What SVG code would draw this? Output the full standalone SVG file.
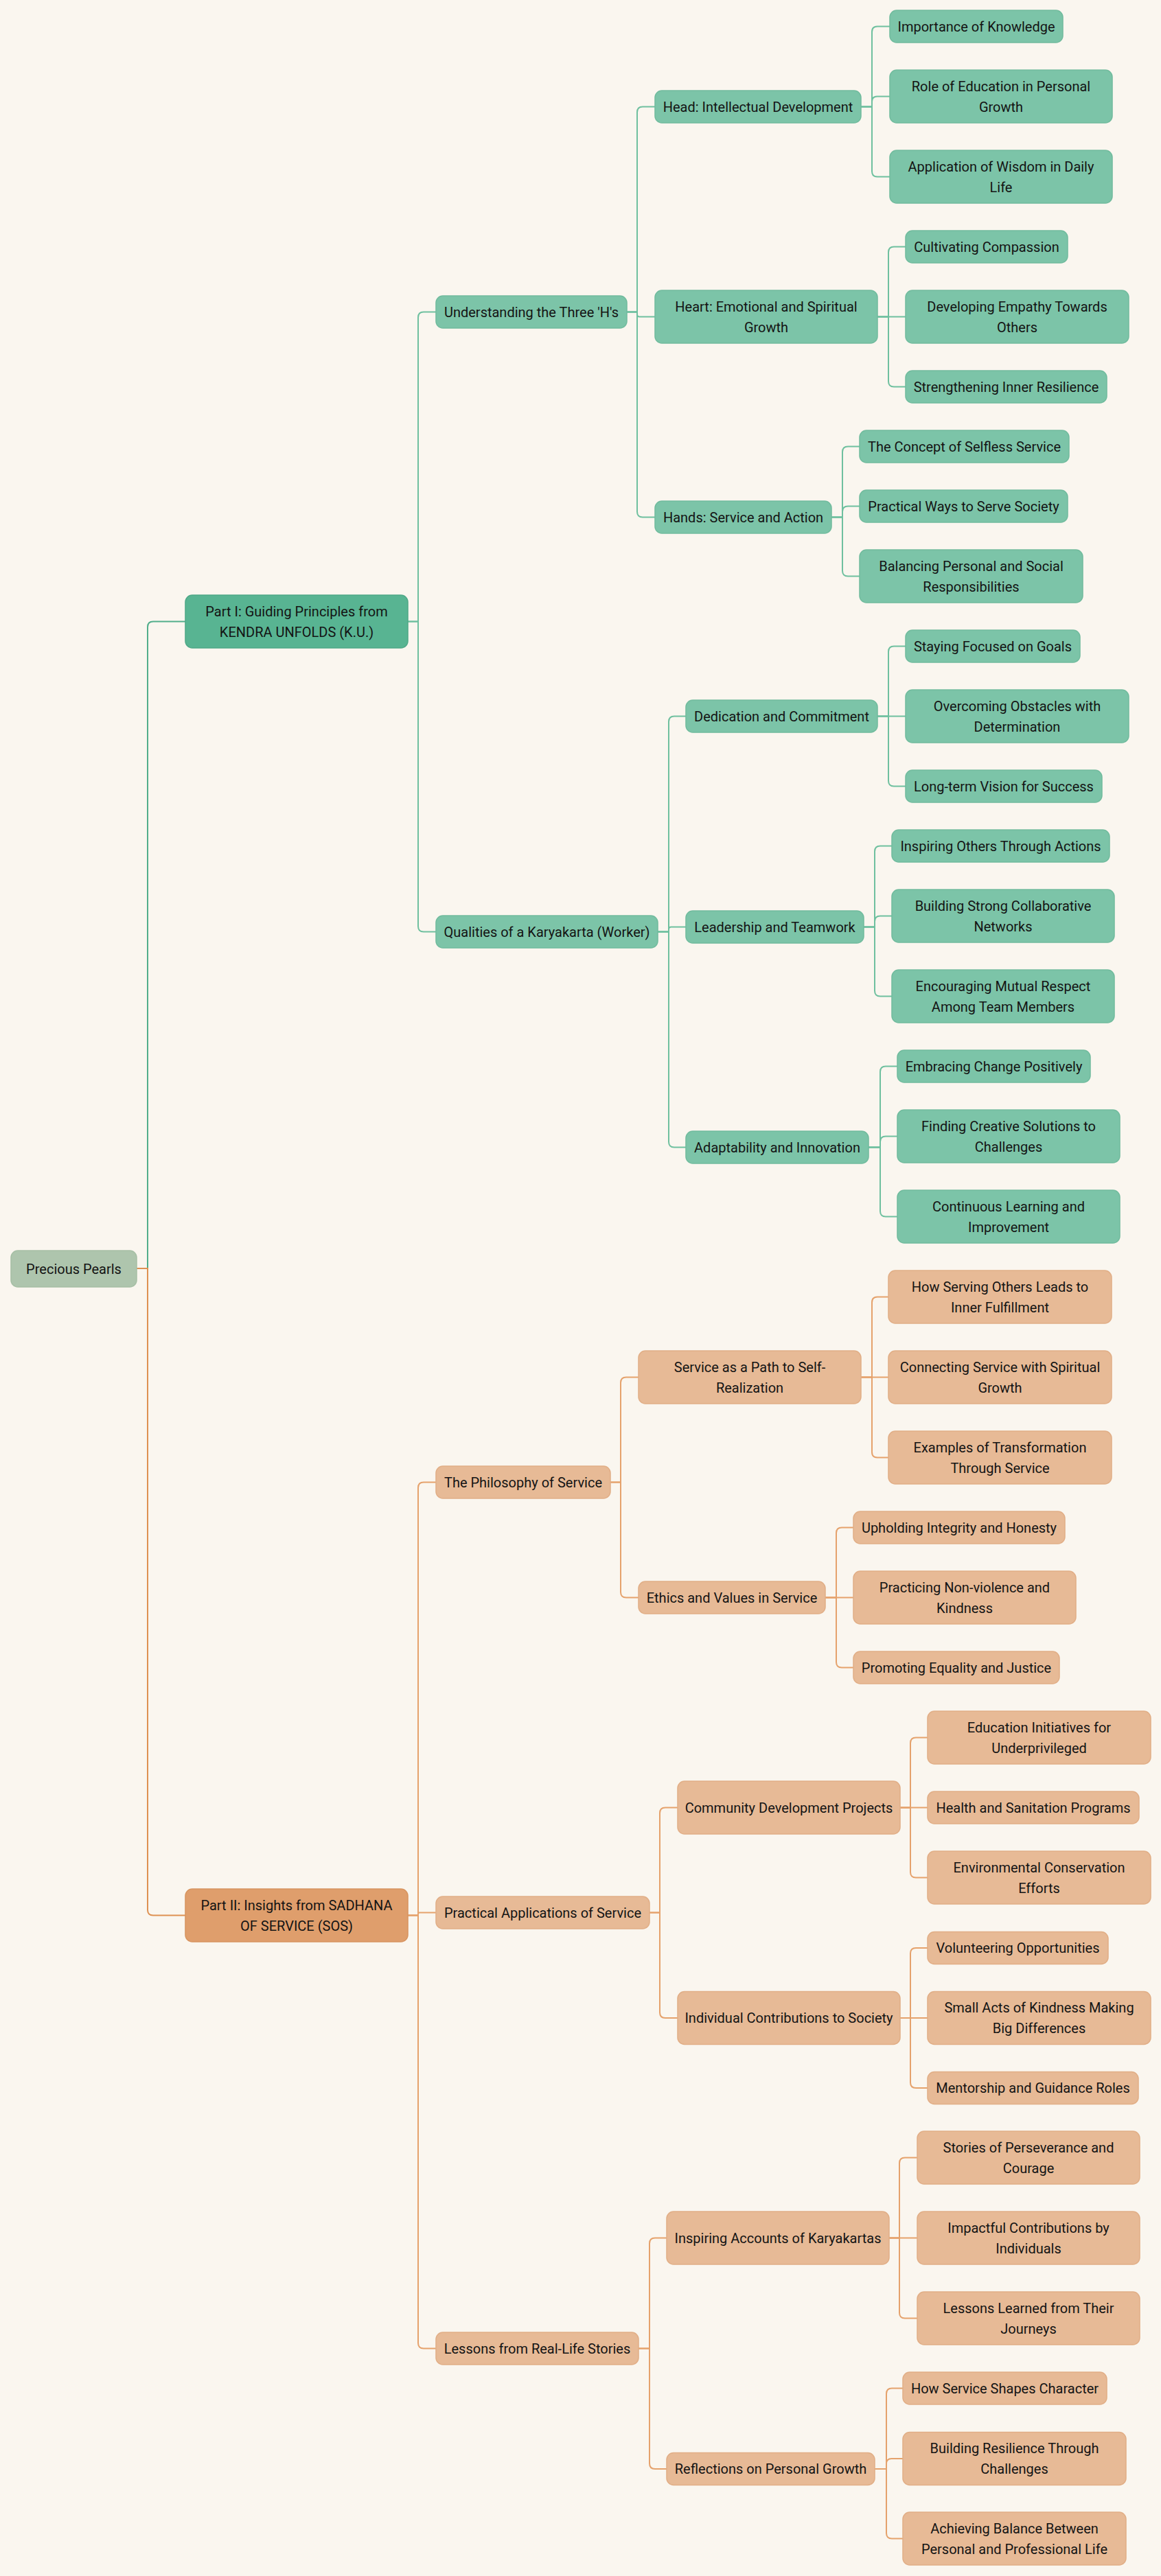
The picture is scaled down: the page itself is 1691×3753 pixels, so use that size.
<svg xmlns="http://www.w3.org/2000/svg" width="1691" height="3753" viewBox="0 0 1691 3753">
<style>
.bg{fill:#faf6ef}
rect{rx:10px;ry:10px;stroke-width:1.5}
.root rect{fill:#aec5ad;stroke:#a6bfa5}
.p1 rect{fill:#58b492;stroke:#4ea887}
.g rect{fill:#7cc4a8;stroke:#70bb9d}
.p2 rect{fill:#df9e6c;stroke:#d8945f}
.o rect{fill:#e7ba96;stroke:#e1ae86}
text{font-family:Roboto,"Noto Sans",Arial,sans-serif;font-size:20px;fill:#141414;text-anchor:middle;dominant-baseline:central}
#connectors path{fill:none;stroke-width:2}
.lg{stroke:#6fc09f}
.lo{stroke:#e5a26c}
.lg1{stroke:#52ae8b}
.lo1{stroke:#de9152}
</style>
<rect class="bg" x="0" y="0" width="1691" height="3753" style="rx:0;ry:0"/>
<g id="connectors">
<path class="lg1" d="M199,1848 H215 V913.5 Q215,905.5 223,905.5 H270"/>
<path class="lo1" d="M199,1848 H215 V2782.5 Q215,2790.5 223,2790.5 H270"/>
<path class="lg" d="M594,905.5 H609 V462.5 Q609,454.5 617,454.5 H635"/>
<path class="lg" d="M594,905.5 H609 V1349.5 Q609,1357.5 617,1357.5 H635"/>
<path class="lg" d="M913,454.5 H928 V163.5 Q928,155.5 936,155.5 H954"/>
<path class="lg" d="M913,454.5 H928 V458 Q928,461.5 931.5,461.5 H954"/>
<path class="lg" d="M913,454.5 H928 V745.5 Q928,753.5 936,753.5 H954"/>
<path class="lg" d="M1254,155.5 H1270 V46.5 Q1270,38.5 1278,38.5 H1296"/>
<path class="lg" d="M1254,155.5 H1270 V148 Q1270,140.5 1277.5,140.5 H1296"/>
<path class="lg" d="M1254,155.5 H1270 V249.5 Q1270,257.5 1278,257.5 H1296"/>
<path class="lg" d="M1278,461.5 H1294 V367.5 Q1294,359.5 1302,359.5 H1319"/>
<path class="lg" d="M1278,461.5 H1319"/>
<path class="lg" d="M1278,461.5 H1294 V555.5 Q1294,563.5 1302,563.5 H1319"/>
<path class="lg" d="M1211,753.5 H1227 V658.5 Q1227,650.5 1235,650.5 H1252"/>
<path class="lg" d="M1211,753.5 H1227 V745.5 Q1227,737.5 1235,737.5 H1252"/>
<path class="lg" d="M1211,753.5 H1227 V831.5 Q1227,839.5 1235,839.5 H1252"/>
<path class="lg" d="M958,1357.5 H974 V1051.5 Q974,1043.5 982,1043.5 H999"/>
<path class="lg" d="M958,1357.5 H974 V1354 Q974,1350.5 977.5,1350.5 H999"/>
<path class="lg" d="M958,1357.5 H974 V1663.5 Q974,1671.5 982,1671.5 H999"/>
<path class="lg" d="M1278,1043.5 H1294 V949.5 Q1294,941.5 1302,941.5 H1319"/>
<path class="lg" d="M1278,1043.5 H1319"/>
<path class="lg" d="M1278,1043.5 H1294 V1137.5 Q1294,1145.5 1302,1145.5 H1319"/>
<path class="lg" d="M1258,1350.5 H1274 V1240.5 Q1274,1232.5 1282,1232.5 H1299"/>
<path class="lg" d="M1258,1350.5 H1274 V1342.5 Q1274,1334.5 1282,1334.5 H1299"/>
<path class="lg" d="M1258,1350.5 H1274 V1443.5 Q1274,1451.5 1282,1451.5 H1299"/>
<path class="lg" d="M1265,1671.5 H1282 V1561.5 Q1282,1553.5 1290,1553.5 H1307"/>
<path class="lg" d="M1265,1671.5 H1282 V1663.5 Q1282,1655.5 1290,1655.5 H1307"/>
<path class="lg" d="M1265,1671.5 H1282 V1764.5 Q1282,1772.5 1290,1772.5 H1307"/>
<path class="lo" d="M594,2790.5 H609 V2167.5 Q609,2159.5 617,2159.5 H635"/>
<path class="lo" d="M594,2790.5 H609 V2788.5 Q609,2786.5 611,2786.5 H635"/>
<path class="lo" d="M594,2790.5 H609 V3413.5 Q609,3421.5 617,3421.5 H635"/>
<path class="lo" d="M889,2159.5 H904 V2014.5 Q904,2006.5 912,2006.5 H930"/>
<path class="lo" d="M889,2159.5 H904 V2319.5 Q904,2327.5 912,2327.5 H930"/>
<path class="lo" d="M1254,2006.5 H1270 V1897.5 Q1270,1889.5 1278,1889.5 H1294"/>
<path class="lo" d="M1254,2006.5 H1294"/>
<path class="lo" d="M1254,2006.5 H1270 V2115.5 Q1270,2123.5 1278,2123.5 H1294"/>
<path class="lo" d="M1202,2327.5 H1218 V2233.5 Q1218,2225.5 1226,2225.5 H1243"/>
<path class="lo" d="M1202,2327.5 H1243"/>
<path class="lo" d="M1202,2327.5 H1218 V2421.5 Q1218,2429.5 1226,2429.5 H1243"/>
<path class="lo" d="M946,2786.5 H961 V2641.5 Q961,2633.5 969,2633.5 H987"/>
<path class="lo" d="M946,2786.5 H961 V2932 Q961,2940 969,2940 H987"/>
<path class="lo" d="M1311,2633.5 H1326 V2539.5 Q1326,2531.5 1334,2531.5 H1351"/>
<path class="lo" d="M1311,2633.5 H1351"/>
<path class="lo" d="M1311,2633.5 H1326 V2727.5 Q1326,2735.5 1334,2735.5 H1351"/>
<path class="lo" d="M1311,2940 H1326 V2846 Q1326,2838 1334,2838 H1351"/>
<path class="lo" d="M1311,2940 H1351"/>
<path class="lo" d="M1311,2940 H1326 V3034 Q1326,3042 1334,3042 H1351"/>
<path class="lo" d="M930,3421.5 H946 V3268.5 Q946,3260.5 954,3260.5 H971"/>
<path class="lo" d="M930,3421.5 H946 V3589 Q946,3597 954,3597 H971"/>
<path class="lo" d="M1295,3260.5 H1310 V3151.5 Q1310,3143.5 1318,3143.5 H1336"/>
<path class="lo" d="M1295,3260.5 H1336"/>
<path class="lo" d="M1295,3260.5 H1310 V3369.5 Q1310,3377.5 1318,3377.5 H1336"/>
<path class="lo" d="M1274,3597 H1291 V3487.5 Q1291,3479.5 1299,3479.5 H1315"/>
<path class="lo" d="M1274,3597 H1291 V3589.5 Q1291,3582 1298.5,3582 H1315"/>
<path class="lo" d="M1274,3597 H1291 V3690.5 Q1291,3698.5 1299,3698.5 H1315"/>
</g>

<g id="n-root" class="root"><rect x="16" y="1822" width="183" height="53"/><text x="107.5" y="1848.5">Precious Pearls</text></g>

<g id="n-part1" class="p1"><rect x="270" y="867" width="324" height="77"/><text x="432" y="890.5">Part I: Guiding Principles from</text><text x="432" y="920.5">KENDRA UNFOLDS (K.U.)</text></g>
<g id="n-understanding" class="g"><rect x="635" y="431" width="278" height="47"/><text x="774" y="454.5">Understanding the Three 'H's</text></g>
<g id="n-head" class="g"><rect x="954" y="132" width="300" height="47"/><text x="1104" y="155.5">Head: Intellectual Development</text></g>
<g id="n-importance" class="g"><rect x="1296" y="15" width="252" height="47"/><text x="1422" y="38.5">Importance of Knowledge</text></g>
<g id="n-role" class="g"><rect x="1296" y="102" width="324" height="77"/><text x="1458" y="125.5">Role of Education in Personal</text><text x="1458" y="155.5">Growth</text></g>
<g id="n-application" class="g"><rect x="1296" y="219" width="324" height="77"/><text x="1458" y="242.5">Application of Wisdom in Daily</text><text x="1458" y="272.5">Life</text></g>
<g id="n-heart" class="g"><rect x="954" y="423" width="324" height="77"/><text x="1116" y="446.5">Heart: Emotional and Spiritual</text><text x="1116" y="476.5">Growth</text></g>
<g id="n-cultivating" class="g"><rect x="1319" y="336" width="236" height="47"/><text x="1437" y="359.5">Cultivating Compassion</text></g>
<g id="n-empathy" class="g"><rect x="1319" y="423" width="325" height="77"/><text x="1481.5" y="446.5">Developing Empathy Towards</text><text x="1481.5" y="476.5">Others</text></g>
<g id="n-resilience" class="g"><rect x="1319" y="540" width="293" height="47"/><text x="1465.5" y="563.5">Strengthening Inner Resilience</text></g>
<g id="n-hands" class="g"><rect x="954" y="730" width="257" height="47"/><text x="1082.5" y="753.5">Hands: Service and Action</text></g>
<g id="n-selfless" class="g"><rect x="1252" y="627" width="305" height="47"/><text x="1404.5" y="650.5">The Concept of Selfless Service</text></g>
<g id="n-ways" class="g"><rect x="1252" y="714" width="303" height="47"/><text x="1403.5" y="737.5">Practical Ways to Serve Society</text></g>
<g id="n-balancing" class="g"><rect x="1252" y="801" width="325" height="77"/><text x="1414.5" y="824.5">Balancing Personal and Social</text><text x="1414.5" y="854.5">Responsibilities</text></g>
<g id="n-qualities" class="g"><rect x="635" y="1334" width="323" height="47"/><text x="796.5" y="1357.5">Qualities of a Karyakarta (Worker)</text></g>
<g id="n-dedication" class="g"><rect x="999" y="1020" width="279" height="47"/><text x="1138.5" y="1043.5">Dedication and Commitment</text></g>
<g id="n-staying" class="g"><rect x="1319" y="918" width="254" height="47"/><text x="1446" y="941.5">Staying Focused on Goals</text></g>
<g id="n-overcoming" class="g"><rect x="1319" y="1005" width="325" height="77"/><text x="1481.5" y="1028.5">Overcoming Obstacles with</text><text x="1481.5" y="1058.5">Determination</text></g>
<g id="n-longterm" class="g"><rect x="1319" y="1122" width="286" height="47"/><text x="1462" y="1145.5">Long-term Vision for Success</text></g>
<g id="n-leadership" class="g"><rect x="999" y="1327" width="259" height="47"/><text x="1128.5" y="1350.5">Leadership and Teamwork</text></g>
<g id="n-inspiring-others" class="g"><rect x="1299" y="1209" width="317" height="47"/><text x="1457.5" y="1232.5">Inspiring Others Through Actions</text></g>
<g id="n-building-networks" class="g"><rect x="1299" y="1296" width="324" height="77"/><text x="1461" y="1319.5">Building Strong Collaborative</text><text x="1461" y="1349.5">Networks</text></g>
<g id="n-mutual-respect" class="g"><rect x="1299" y="1413" width="324" height="77"/><text x="1461" y="1436.5">Encouraging Mutual Respect</text><text x="1461" y="1466.5">Among Team Members</text></g>
<g id="n-adaptability" class="g"><rect x="999" y="1648" width="266" height="47"/><text x="1132" y="1671.5">Adaptability and Innovation</text></g>
<g id="n-embracing" class="g"><rect x="1307" y="1530" width="281" height="47"/><text x="1447.5" y="1553.5">Embracing Change Positively</text></g>
<g id="n-creative" class="g"><rect x="1307" y="1617" width="324" height="77"/><text x="1469" y="1640.5">Finding Creative Solutions to</text><text x="1469" y="1670.5">Challenges</text></g>
<g id="n-continuous" class="g"><rect x="1307" y="1734" width="324" height="77"/><text x="1469" y="1757.5">Continuous Learning and</text><text x="1469" y="1787.5">Improvement</text></g>

<g id="n-part2" class="p2"><rect x="270" y="2752" width="324" height="77"/><text x="432" y="2775.5">Part II: Insights from SADHANA</text><text x="432" y="2805.5">OF SERVICE (SOS)</text></g>
<g id="n-philosophy" class="o"><rect x="635" y="2136" width="254" height="47"/><text x="762" y="2159.5">The Philosophy of Service</text></g>
<g id="n-selfrealization" class="o"><rect x="930" y="1968" width="324" height="77"/><text x="1092" y="1991.5">Service as a Path to Self-</text><text x="1092" y="2021.5">Realization</text></g>
<g id="n-fulfillment" class="o"><rect x="1294" y="1851" width="325" height="77"/><text x="1456.5" y="1874.5">How Serving Others Leads to</text><text x="1456.5" y="1904.5">Inner Fulfillment</text></g>
<g id="n-connecting" class="o"><rect x="1294" y="1968" width="325" height="77"/><text x="1456.5" y="1991.5">Connecting Service with Spiritual</text><text x="1456.5" y="2021.5">Growth</text></g>
<g id="n-examples" class="o"><rect x="1294" y="2085" width="325" height="77"/><text x="1456.5" y="2108.5">Examples of Transformation</text><text x="1456.5" y="2138.5">Through Service</text></g>
<g id="n-ethics" class="o"><rect x="930" y="2304" width="272" height="47"/><text x="1066" y="2327.5">Ethics and Values in Service</text></g>
<g id="n-upholding" class="o"><rect x="1243" y="2202" width="308" height="47"/><text x="1397" y="2225.5">Upholding Integrity and Honesty</text></g>
<g id="n-nonviolence" class="o"><rect x="1243" y="2289" width="324" height="77"/><text x="1405" y="2312.5">Practicing Non-violence and</text><text x="1405" y="2342.5">Kindness</text></g>
<g id="n-equality" class="o"><rect x="1243" y="2406" width="300" height="47"/><text x="1393" y="2429.5">Promoting Equality and Justice</text></g>
<g id="n-practical" class="o"><rect x="635" y="2763" width="311" height="47"/><text x="790.5" y="2786.5">Practical Applications of Service</text></g>
<g id="n-community" class="o"><rect x="987" y="2595" width="324" height="77"/><text x="1149" y="2633.5">Community Development Projects</text></g>
<g id="n-education" class="o"><rect x="1351" y="2493" width="325" height="77"/><text x="1513.5" y="2516.5">Education Initiatives for</text><text x="1513.5" y="2546.5">Underprivileged</text></g>
<g id="n-health" class="o"><rect x="1351" y="2610" width="308" height="47"/><text x="1505" y="2633.5">Health and Sanitation Programs</text></g>
<g id="n-environment" class="o"><rect x="1351" y="2697" width="325" height="77"/><text x="1513.5" y="2720.5">Environmental Conservation</text><text x="1513.5" y="2750.5">Efforts</text></g>
<g id="n-individual" class="o"><rect x="987" y="2901.5" width="324" height="77"/><text x="1149" y="2940">Individual Contributions to Society</text></g>
<g id="n-volunteering" class="o"><rect x="1351" y="2814.5" width="263" height="47"/><text x="1482.5" y="2838">Volunteering Opportunities</text></g>
<g id="n-smallacts" class="o"><rect x="1351" y="2901.5" width="325" height="77"/><text x="1513.5" y="2925">Small Acts of Kindness Making</text><text x="1513.5" y="2955">Big Differences</text></g>
<g id="n-mentorship" class="o"><rect x="1351" y="3018.5" width="307" height="47"/><text x="1504.5" y="3042">Mentorship and Guidance Roles</text></g>
<g id="n-lessons" class="o"><rect x="635" y="3398" width="295" height="47"/><text x="782.5" y="3421.5">Lessons from Real-Life Stories</text></g>
<g id="n-inspiring-accounts" class="o"><rect x="971" y="3222" width="324" height="77"/><text x="1133" y="3260.5">Inspiring Accounts of Karyakartas</text></g>
<g id="n-perseverance" class="o"><rect x="1336" y="3105" width="324" height="77"/><text x="1498" y="3128.5">Stories of Perseverance and</text><text x="1498" y="3158.5">Courage</text></g>
<g id="n-impactful" class="o"><rect x="1336" y="3222" width="324" height="77"/><text x="1498" y="3245.5">Impactful Contributions by</text><text x="1498" y="3275.5">Individuals</text></g>
<g id="n-journeys" class="o"><rect x="1336" y="3339" width="324" height="77"/><text x="1498" y="3362.5">Lessons Learned from Their</text><text x="1498" y="3392.5">Journeys</text></g>
<g id="n-reflections" class="o"><rect x="971" y="3573.5" width="303" height="47"/><text x="1122.5" y="3597">Reflections on Personal Growth</text></g>
<g id="n-character" class="o"><rect x="1315" y="3456" width="297" height="47"/><text x="1463.5" y="3479.5">How Service Shapes Character</text></g>
<g id="n-building-resilience" class="o"><rect x="1315" y="3543.5" width="325" height="77"/><text x="1477.5" y="3567">Building Resilience Through</text><text x="1477.5" y="3597">Challenges</text></g>
<g id="n-balance" class="o"><rect x="1315" y="3660" width="325" height="77"/><text x="1477.5" y="3683.5">Achieving Balance Between</text><text x="1477.5" y="3713.5">Personal and Professional Life</text></g>
</svg>
